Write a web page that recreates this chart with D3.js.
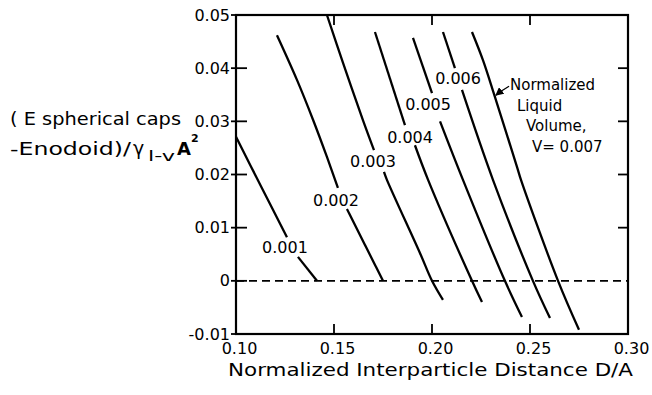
<!DOCTYPE html>
<html>
<head>
<meta charset="utf-8">
<script src="https://cdn.jsdelivr.net/npm/d3@7/dist/d3.min.js"></script>
<style>
  html, body { margin: 0; padding: 0; background: #fff; }
  svg { display: block; }
  text { font-family: "DejaVu Sans", sans-serif; fill: #000; }
</style>
</head>
<body>
<svg id="chart" width="652" height="395"></svg>
<script>
// ---- data ----
const xTicks = [0.10, 0.15, 0.20, 0.25, 0.30];
const xTickLabels = ["0.10", "0.15", "0.20", "0.25", "0.30"];
const yTicks = [-0.01, 0, 0.01, 0.02, 0.03, 0.04, 0.05];
const yTickLabels = ["-0.01", "0", "0.01", "0.02", "0.03", "0.04", "0.05"];
const volumes = ["0.001", "0.002", "0.003", "0.004", "0.005", "0.006", "0.007"];

// each curve: segments of [D/A, energy] points (gaps are where the label sits)
const curve001 = [
  [[0.1000, 0.0271], [0.1130, 0.0176], [0.1260, 0.0082]],
  [[0.1316, 0.0045], [0.1413, 0.0000]]
];
const curve002 = [
  [[0.1209, 0.0462], [0.1311, 0.0378], [0.1393, 0.0303], [0.1464, 0.0233], [0.1520, 0.0175]],
  [[0.1566, 0.0135], [0.1750, 0.0000]]
];
const curve003 = [
  [[0.1464, 0.0500], [0.1546, 0.0410], [0.1648, 0.0302], [0.1704, 0.0246]],
  [[0.1755, 0.0205], [0.1770, 0.0190], [0.1939, 0.0052], [0.2000, 0.0000], [0.2056, -0.0036]]
];
const curve004 = [
  [[0.1709, 0.0468], [0.1862, 0.0293]],
  [[0.1913, 0.0255], [0.1980, 0.0190], [0.2204, 0.0000], [0.2255, -0.0040]]
];
const curve005 = [
  [[0.1903, 0.0457], [0.2000, 0.0353]],
  [[0.2041, 0.0300], [0.2158, 0.0190], [0.2372, 0.0000], [0.2459, -0.0068]]
];
const curve006 = [
  [[0.2056, 0.0468], [0.2117, 0.0400]],
  [[0.2153, 0.0359], [0.2311, 0.0190], [0.2515, 0.0000], [0.2602, -0.0070]]
];
const curve007 = [
  [[0.2204, 0.0468], [0.2260, 0.0415], [0.2321, 0.0346], [0.2434, 0.0214], [0.2454, 0.0190], [0.2643, 0.0000], [0.2750, -0.0092]]
];
const curves = [curve001, curve002, curve003, curve004, curve005, curve006, curve007];
// label anchors (centre of each in-line label), in data units
const labelPos = [
  [0.1250, 0.0063], [0.1510, 0.0152], [0.1699, 0.0225],
  [0.1888, 0.0270], [0.1980, 0.0332], [0.2133, 0.0380]
];

// ---- layout ----
const svg = d3.select("#chart");
const L = 236, R = 628, T = 15, B = 334;
const x = d3.scaleLinear().domain([0.10, 0.30]).range([L, R]);
const y = d3.scaleLinear().domain([-0.01, 0.05]).range([B, T]);

// zero line (dashed)
svg.append("line")
  .attr("x1", x(0.10)).attr("x2", x(0.30))
  .attr("y1", y(0)).attr("y2", y(0))
  .attr("stroke", "#000").attr("stroke-width", 1.8)
  .attr("stroke-dasharray", "8,5");

// curves
const line = d3.line().x(d => x(d[0])).y(d => y(d[1])).curve(d3.curveCatmullRom.alpha(0.5));
curves.forEach(c => {
  c.forEach(seg => {
    svg.append("path").attr("d", line(seg))
      .attr("fill", "none").attr("stroke", "#000")
      .attr("stroke-width", 2.3).attr("stroke-linecap", "butt");
  });
});

// in-line labels
labelPos.forEach((p, i) => {
  svg.append("text")
    .attr("x", x(p[0])).attr("y", y(p[1]))
    .attr("text-anchor", "middle").attr("dominant-baseline", "central")
    .attr("font-size", 16).text(volumes[i]);
});

// axes
const inner = [0.15, 0.20, 0.25];
const gB = svg.append("g").attr("transform", `translate(0,${B})`)
  .call(d3.axisBottom(x).tickValues(xTicks).tickFormat((d, i) => xTickLabels[i]).tickSize(0).tickPadding(9));
gB.select(".domain").remove();
gB.selectAll("text").attr("font-size", 16).attr("font-family", "DejaVu Sans").attr("dx", 3);

const gL = svg.append("g").attr("transform", `translate(${L},0)`)
  .call(d3.axisLeft(y).tickValues(yTicks).tickFormat((d, i) => yTickLabels[i]).tickSizeInner(0).tickSizeOuter(0).tickPadding(6));
gL.select(".domain").remove();
gL.selectAll("text").attr("font-size", 16).attr("font-family", "DejaVu Sans");
// left ticks cross the axis
yTicks.forEach(v => {
  svg.append("line").attr("x1", L - 5).attr("x2", L + 11).attr("y1", y(v)).attr("y2", y(v))
    .attr("stroke", "#000").attr("stroke-width", 1.8);
});

// inward ticks on bottom/top/right
inner.forEach(v => {
  svg.append("line").attr("x1", x(v)).attr("x2", x(v)).attr("y1", B).attr("y2", B - 10)
    .attr("stroke", "#000").attr("stroke-width", 1.8);
  svg.append("line").attr("x1", x(v)).attr("x2", x(v)).attr("y1", T).attr("y2", T + 10)
    .attr("stroke", "#000").attr("stroke-width", 1.8);
});
[0.01, 0.02, 0.03, 0.04].forEach(v => {
  svg.append("line").attr("x1", R).attr("x2", R - 10).attr("y1", y(v)).attr("y2", y(v))
    .attr("stroke", "#000").attr("stroke-width", 1.8);
});

// frame
svg.append("rect").attr("x", L).attr("y", T).attr("width", R - L).attr("height", B - T)
  .attr("fill", "none").attr("stroke", "#000").attr("stroke-width", 2.2);

// x axis title
svg.append("text").attr("x", 228).attr("y", 376)
  .attr("font-size", 18).attr("textLength", 405).attr("lengthAdjust", "spacingAndGlyphs")
  .text("Normalized Interparticle Distance D/A");

// y axis title
svg.append("text").attr("x", 10).attr("y", 125)
  .attr("font-size", 17).attr("textLength", 171).attr("lengthAdjust", "spacingAndGlyphs")
  .text("( E spherical caps");
const t2 = svg.append("text").attr("x", 10).attr("y", 155).attr("font-size", 17);
t2.append("tspan").attr("textLength", 121).attr("lengthAdjust", "spacingAndGlyphs").text("-Enodoid)/");
t2.append("tspan").attr("x", 133).attr("font-size", 19).text("γ");
t2.append("tspan").attr("x", 148).attr("font-size", 14).attr("dy", 6)
  .attr("textLength", 27).attr("lengthAdjust", "spacingAndGlyphs").text("l-v");
t2.append("tspan").attr("x", 177).attr("font-size", 18).attr("font-weight", "bold").attr("dy", -6).text("A");
t2.append("tspan").attr("x", 191).attr("font-size", 11).attr("font-weight", "bold").attr("dy", -13).text("2");

// annotation for V = 0.007
svg.append("defs").append("marker")
  .attr("id", "arr").attr("viewBox", "0 0 10 10").attr("refX", 9).attr("refY", 5)
  .attr("markerWidth", 6).attr("markerHeight", 6).attr("orient", "auto")
  .append("path").attr("d", "M0,0 L10,5 L0,10 z").attr("fill", "#000");
const a0 = [0.2393, 0.0366], a1 = [0.2355, 0.0358], a2 = [0.2326, 0.0349];
svg.append("path")
  .attr("d", `M${x(a0[0])},${y(a0[1])} Q${x(a1[0])},${y(a1[1])} ${x(a2[0])},${y(a2[1])}`)
  .attr("fill", "none").attr("stroke", "#000").attr("stroke-width", 1.4)
  .attr("marker-end", "url(#arr)");
const ann = [["Normalized", 510, 90], ["Liquid", 517, 111], ["Volume,", 526, 131], ["V= 0.007", 532, 152]];
ann.forEach(a => {
  svg.append("text").attr("x", a[1]).attr("y", a[2]).attr("font-size", 15).text(a[0]);
});
</script>
</body>
</html>
